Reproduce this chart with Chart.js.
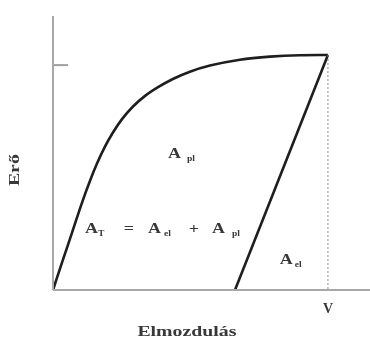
<!DOCTYPE html>
<html lang="hu">
<head>
<meta charset="utf-8">
<script src="https://cdn.jsdelivr.net/npm/chart.js@4.4.1/dist/chart.umd.min.js"></script>
<style>
  html, body { margin: 0; padding: 0; background: #fff; }
  canvas { display: block; }
</style>
</head>
<body>
<canvas id="grafikon" width="370" height="341"></canvas>
<script>
/* =========================
   Erő – elmozdulás diagram
========================= */

// Terhelési görbe (elmozdulás / v, erő / Fmax)
const terhelesX = [0, 0.036, 0.069, 0.105, 0.135, 0.160, 0.189, 0.218, 0.251, 0.291,
  0.335, 0.382, 0.436, 0.498, 0.571, 0.680, 0.789, 0.898, 1];
const terhelesY = [0, 0.128, 0.243, 0.370, 0.466, 0.538, 0.610, 0.670, 0.727, 0.781,
  0.826, 0.863, 0.898, 0.929, 0.955, 0.980, 0.993, 0.999, 1];

// Tehermentesítés (rugalmas visszaalakulás)
const tehermentesX = [1, 0.662];
const tehermentesY = [1, 0];

// v helyén a szaggatott függőleges
const vonalVX = [1, 1];
const vonalVY = [1, 0];

// Tengelyek és a jelölés az y tengelyen
const tengelyYX = [0, 0];
const tengelyYY = [0, 1.166];
const tengelyXX = [0, 1.153];
const tengelyXY = [0, 0];
const jelolesX = [0, 0.055];
const jelolesY = [0.957, 0.957];

// Feliratok
const xFelirat = 'Elmozdulás';
const yFelirat = 'Erő';
const vFelirat = 'V';

const pontok = (xs, ys) => xs.map((x, i) => ({ x, y: ys[i] }));

const SERIF = '"Liberation Serif", "DejaVu Serif", serif';
const SZIN_SZOVEG = '#383838';

function szoveg(ctx, text, x, y, meret, igazitas, nyujtas, forgatas) {
  ctx.save();
  ctx.translate(x, y);
  if (forgatas) ctx.rotate(forgatas);
  ctx.scale(nyujtas, 1);
  ctx.font = `bold ${meret}px ${SERIF}`;
  ctx.fillStyle = SZIN_SZOVEG;
  ctx.textAlign = igazitas;
  ctx.textBaseline = 'alphabetic';
  ctx.fillText(text, 0, 0);
  ctx.restore();
}

// A betű alsó indexszel
function aIndex(ctx, x, y, index, indexTav) {
  szoveg(ctx, 'A', x, y, 15, 'left', 1.2);
  szoveg(ctx, index, x + indexTav, y + 3, 8, 'left', 1.2);
}

const feliratok = {
  id: 'feliratok',
  afterDatasetsDraw(chart) {
    const ctx = chart.ctx;
    const sx = chart.scales.x;
    const sy = chart.scales.y;

    // tengelyfeliratok
    szoveg(ctx, xFelirat, sx.getPixelForValue(0.487), sy.getPixelForValue(-0.196), 15, 'center', 1.32);
    szoveg(ctx, yFelirat, sx.getPixelForValue(-0.122), sy.getPixelForValue(0.51), 15, 'center', 1.32, -Math.PI / 2);
    szoveg(ctx, vFelirat, sx.getPixelForValue(1), sy.getPixelForValue(-0.098), 14, 'center', 1.0);

    // A_pl
    aIndex(ctx, sx.getPixelForValue(0.418), sy.getPixelForValue(0.562), 'pl', 19);

    // A_T = A_el + A_pl
    const fx = sx.getPixelForValue(0.116);
    const fy = sy.getPixelForValue(0.243);
    aIndex(ctx, fx, fy, 'T', 13);
    szoveg(ctx, '=', fx + 44, fy, 15, 'center', 1.2);
    aIndex(ctx, fx + 63, fy, 'el', 16);
    szoveg(ctx, '+', fx + 109, fy, 15, 'center', 1.2);
    aIndex(ctx, fx + 127, fy, 'pl', 20);

    // A_el
    aIndex(ctx, sx.getPixelForValue(0.825), sy.getPixelForValue(0.11), 'el', 15);
  }
};

const vonal = (data, szin, vastag, extra) => Object.assign({
  data,
  borderColor: szin,
  borderWidth: vastag,
  pointRadius: 0,
  fill: false,
  clip: false,
  tension: 0
}, extra || {});

new Chart(document.getElementById('grafikon'), {
  type: 'line',
  data: {
    datasets: [
      vonal(pontok(tengelyYX, tengelyYY), '#a8a8a8', 2),
      vonal(pontok(tengelyXX, tengelyXY), '#a8a8a8', 2),
      vonal(pontok(jelolesX, jelolesY), '#a0a0a0', 2),
      vonal(pontok(vonalVX, vonalVY), '#8a8a8a', 1, { borderDash: [2, 2] }),
      vonal(pontok(terhelesX, terhelesY), '#1e1e1e', 2.6, { cubicInterpolationMode: 'monotone' }),
      vonal(pontok(tehermentesX, tehermentesY), '#1e1e1e', 2.6)
    ]
  },
  options: {
    responsive: false,
    animation: false,
    layout: { padding: { left: 53, right: 0, top: 16, bottom: 51 } },
    plugins: { legend: { display: false }, tooltip: { enabled: false } },
    scales: {
      x: { type: 'linear', min: 0, max: 1.153, display: false },
      y: { type: 'linear', min: 0, max: 1.166, display: false }
    }
  },
  plugins: [feliratok]
});
</script>
</body>
</html>
